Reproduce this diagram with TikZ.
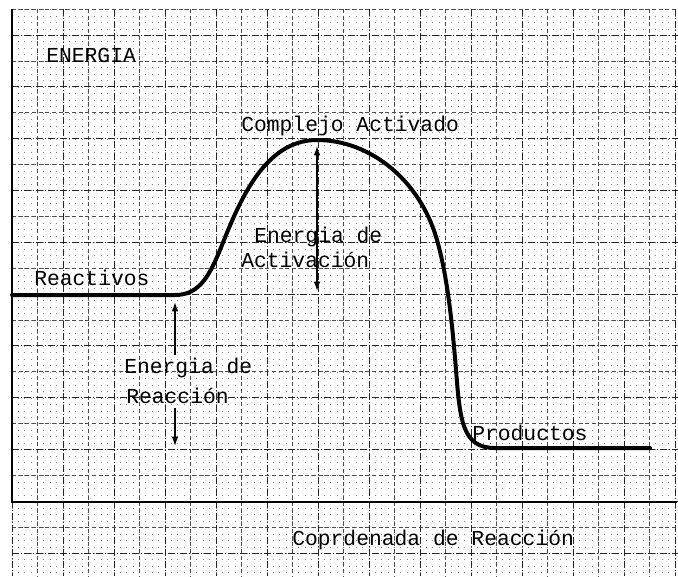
\documentclass[tikz,border=0pt]{standalone}
\usepackage{fontspec}
\newfontfamily\tw{Liberation Mono}
\usetikzlibrary{arrows.meta}
\begin{document}
\begin{tikzpicture}[x=0.75pt,y=-0.75pt,
  lbl/.style={font=\tw\fontsize{16}{18}\selectfont, anchor=base west, inner sep=0pt},
  curve/.style={line width=3pt, line join=round, line cap=round},
  axisline/.style={line width=2.2pt},
  gridmaj/.style={black!85, line width=0.55pt, dash pattern=on 5pt off 1.5pt on 1pt off 1.5pt},
  gridmin/.style={black!70, line width=0.5pt, dash pattern=on 3pt off 2pt},
  gdots/.style={black!50, line width=0.6pt, dash pattern=on 0.6pt off 4.256pt},
  arrtip/.style={line width=1pt},
  tipA/.tip={Latex[length=7pt,width=5pt]}]

\useasboundingbox (0,0) rectangle (678,576);
\fill[white] (0,0) rectangle (678,576);

% dotted lattice
\foreach \k in {0,...,104} \draw[gdots] ({12+6.375*\k},9.1) -- ({12+6.375*\k},576);
% cell lines
\foreach \i in {1,3,...,25} \draw[gridmin] ({12+25.5*\i},9.1) -- ({12+25.5*\i},576);
\foreach \i in {0,2,...,26} \draw[gridmaj] ({12+25.5*\i},9.1) -- ({12+25.5*\i},576);
\foreach \j in {0,2,...,20} \draw[gridmin] (12,{9.1+25.9*\j}) -- (678,{9.1+25.9*\j});
\foreach \j in {1,3,...,21} \draw[gridmaj] (12,{9.1+25.9*\j}) -- (678,{9.1+25.9*\j});

% axes
\coordinate (ytop) at (12,9);
\coordinate (orig) at (12,502);
\coordinate (xend) at (677,502);
\draw[axisline] (ytop) -- (orig) -- (xend);

% energy curve
\coordinate (r0) at (12,295);
\coordinate (r1) at (175,295);
\coordinate (peak) at (317,140);
\coordinate (p0) at (495,448);
\coordinate (p1) at (650,448);
\draw[curve] (r0) -- (r1)
  .. controls (200,295) and (210,275) .. (222,245)
  .. controls (240,200) and (265,140) .. (peak)
  .. controls (370,140) and (420,180) .. (437,240)
  .. controls (447,275) and (452,320) .. (456,370)
  .. controls (460,420) and (462,448) .. (p0)
  -- (p1);

% labels
\node[lbl] (energia) at (46,62) {ENERGIA};
\node[lbl] (complejo) at (241,131) {Complejo Activado};
\node[lbl] (ea1) at (254,242) {Energia de};
\node[lbl] (ea2) at (241,267) {Activación};
\node[lbl] (reactivos) at (34,285) {Reactivos};
\node[lbl] (er1) at (124,373) {Energia de};
\node[lbl] (er2) at (126,403) {Reacción};
\node[lbl] (productos) at (472,440) {Productos};
\node[lbl] (coord) at (292,545) {Coprdenada de Reacción};

% activation energy arrow
\coordinate (actTop) at (317,146);
\coordinate (actBot) at (317,291);
\draw[arrtip, tipA-tipA] (actTop) -- (actBot);

% reaction energy arrows
\coordinate (rUpTip) at (175,302);
\coordinate (rUpTail) at (175,355);
\coordinate (rDnTail) at (175,408);
\coordinate (rDnTip) at (175,446);
\draw[arrtip, -tipA] (rUpTail) -- (rUpTip);
\draw[arrtip, -tipA] (rDnTail) -- (rDnTip);
\end{tikzpicture}
\end{document}
